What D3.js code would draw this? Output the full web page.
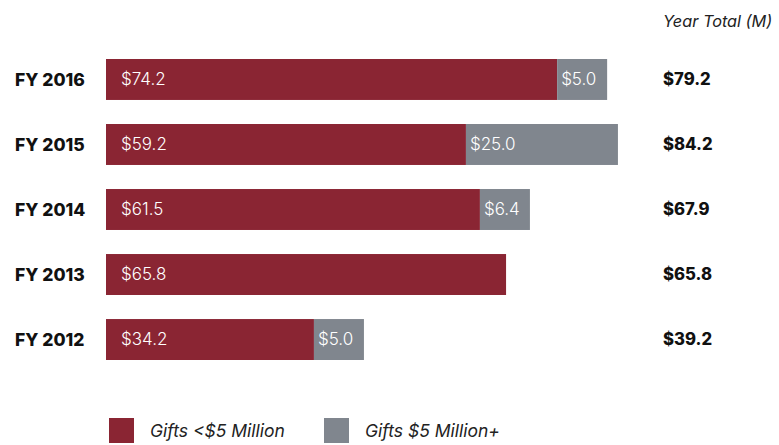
<!DOCTYPE html>
<html><head><meta charset="utf-8">
<script src="https://cdn.jsdelivr.net/npm/d3@7"></script>
<style>body{margin:0;background:#fff}svg{display:block;font-family:Inter,"Noto Sans",sans-serif}</style>
</head><body><svg id="c" width="779" height="445"></svg>
<script>
const categories = ["FY 2016","FY 2015","FY 2014","FY 2013","FY 2012"];
const giftsUnder5M = [74.2, 59.2, 61.5, 65.8, 34.2];
const gifts5MPlus = [5.0, 25.0, 6.4, 0, 5.0];
const yearTotals = [79.2, 84.2, 67.9, 65.8, 39.2];
const seriesNames = ["Gifts <$5 Million","Gifts $5 Million+"];
const colors = ["#8A2533","#80868E"];

const svg = d3.select("#c");
const x = d3.scaleLinear().domain([0, 100]).range([106, 714]);
const y = d3.scaleBand().domain(categories).range([46, 373]).paddingInner(0.37).paddingOuter(0.2);
const minW = 50;
const fmt = v => "$" + v.toFixed(1);

categories.forEach((c, i) => {
  const y0 = y(c), h = y.bandwidth();
  const w1 = x(giftsUnder5M[i]) - x(0);
  svg.append("rect").attr("x", x(0)).attr("y", y0).attr("width", w1).attr("height", h).attr("fill", colors[0]);
  svg.append("text").attr("x", x(0) + 15).attr("y", y0 + h/2).attr("dy", "0.35em")
    .attr("fill", "#fff").attr("font-size", 17).attr("font-weight", 300).text(fmt(giftsUnder5M[i]));
  if (gifts5MPlus[i] > 0) {
    const w2 = Math.max(x(gifts5MPlus[i]) - x(0), minW);
    const sx = x(0) + w1;
    svg.append("rect").attr("x", sx).attr("y", y0).attr("width", w2).attr("height", h).attr("fill", colors[1]);
    svg.append("text").attr("x", sx + 4).attr("y", y0 + h/2).attr("dy", "0.35em")
      .attr("fill", "#fff").attr("font-size", 17).attr("font-weight", 300).text(fmt(gifts5MPlus[i]));
  }
  svg.append("text").attr("x", 15).attr("y", y0 + h/2).attr("dy", "0.35em")
    .attr("font-size", 17.5).attr("font-weight", 800).attr("fill", "#111").text(c);
  svg.append("text").attr("x", 663).attr("y", y0 + h/2).attr("dy", "0.35em")
    .attr("font-size", 16.7).attr("font-weight", 800).attr("fill", "#111").text(fmt(yearTotals[i]));
});

svg.append("text").attr("x", 663).attr("y", 21).attr("dy", "0.35em")
  .attr("font-size", 16.3).attr("font-style", "italic").attr("fill", "#222").text("Year Total (M)");

const legX = [109, 324];
seriesNames.forEach((n, i) => {
  svg.append("rect").attr("x", legX[i]).attr("y", 418).attr("width", 25).attr("height", 25).attr("fill", colors[i]);
  svg.append("text").attr("x", legX[i] + 41).attr("y", 431).attr("dy", "0.35em")
    .attr("font-size", 17.5).attr("font-style", "italic").attr("fill", "#222").text(n);
});
</script></body></html>
